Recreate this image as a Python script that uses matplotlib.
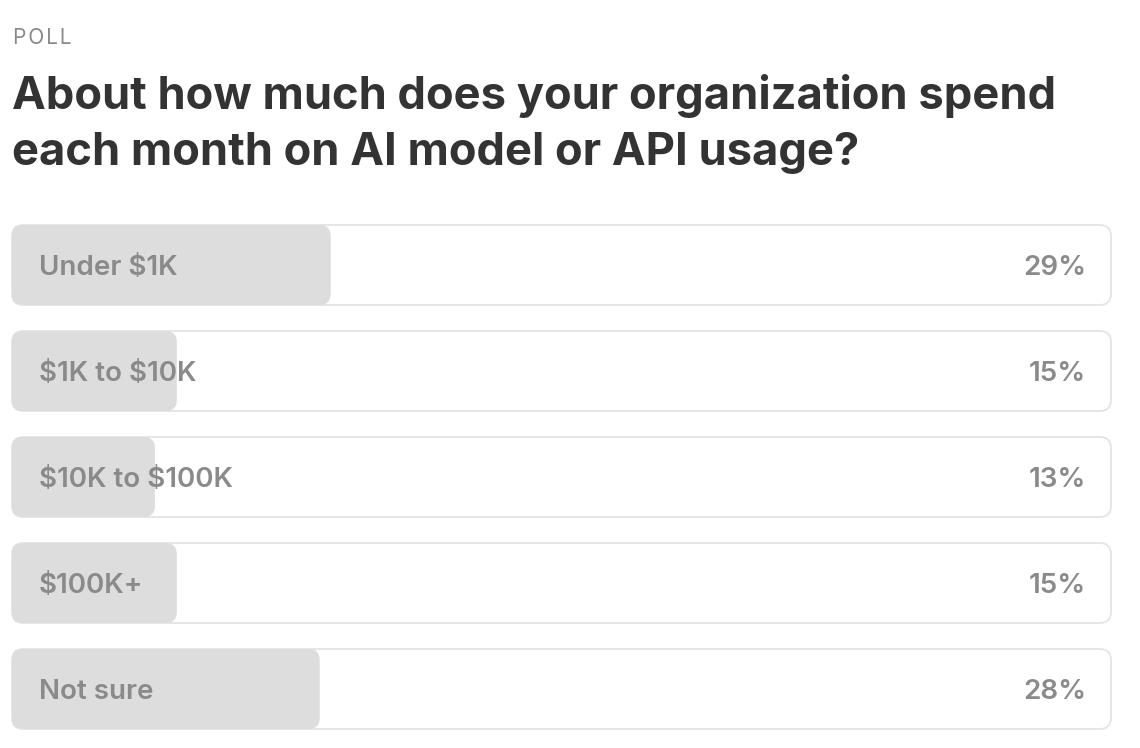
import matplotlib
matplotlib.use("Agg")
import matplotlib.pyplot as plt
from matplotlib.patches import FancyBboxPatch

categories = ["Under $1K", "$1K to $10K", "$10K to $100K", "$100K+", "Not sure"]
percents = [29, 15, 13, 15, 28]
kicker = "POLL"
title_lines = ["About how much does your organization spend",
               "each month on AI model or API usage?"]

W, H = 1140, 748
plt.rcParams['font.family'] = ['Inter', 'DejaVu Sans']
plt.rcParams['text.parse_math'] = False
fig = plt.figure(figsize=(W / 100, H / 100), dpi=100)
fig.patch.set_facecolor("white")

# text header
fig.text(13 / W, 1 - 44 / H, "\u200a".join(kicker), fontsize=15, color="#8a8a8a",
         va="baseline", ha="left")
fig.text(12 / W, 1 - 109 / H, title_lines[0], fontsize=32.6, color="#333333",
         fontweight="bold", va="baseline", ha="left")
fig.text(12 / W, 1 - 165 / H, title_lines[1], fontsize=32.6, color="#333333",
         fontweight="bold", va="baseline", ha="left")

# chart axes: container area
left_px, right_px = 12, 1111
top_px, bot_px = 225, 729
ax = fig.add_axes([left_px / W, 1 - bot_px / H, (right_px - left_px) / W,
                   (bot_px - top_px) / H])
ax.set_axis_off()
n = len(categories)
pitch_px = 106
bar_px = 80
bh = bar_px / pitch_px
ax.set_xlim(0, 100)
ax.set_ylim(n - 1 + bh / 2, -bh / 2)

px_per_x = (right_px - left_px) / 100
px_per_y = pitch_px
aspect = px_per_x / px_per_y
r = 11 / px_per_x

for i, (cat, p) in enumerate(zip(categories, percents)):
    y0 = i - bh / 2
    cont = FancyBboxPatch((0, y0), 100, bh,
                          boxstyle=f"round,pad=0,rounding_size={r}",
                          mutation_aspect=aspect, facecolor="white",
                          edgecolor="#e4e4e4", linewidth=1.3, zorder=1,
                          clip_on=False)
    ax.add_patch(cont)
    fill = FancyBboxPatch((0, y0), p, bh,
                          boxstyle=f"round,pad=0,rounding_size={r}",
                          mutation_aspect=aspect, facecolor="#dddddd",
                          edgecolor="none", zorder=2, clip_on=False)
    ax.add_patch(fill)
    ax.text(27 / px_per_x, i, cat, fontsize=20, color="#8a8a8a",
            fontweight="semibold", va="center_baseline", ha="left", zorder=3)
    ax.text(100 - 25 / px_per_x, i, f"{p}%", fontsize=20, color="#8a8a8a",
            fontweight="semibold", va="center_baseline", ha="right", zorder=3)

fig.savefig("out.png", dpi=100, facecolor="white")
